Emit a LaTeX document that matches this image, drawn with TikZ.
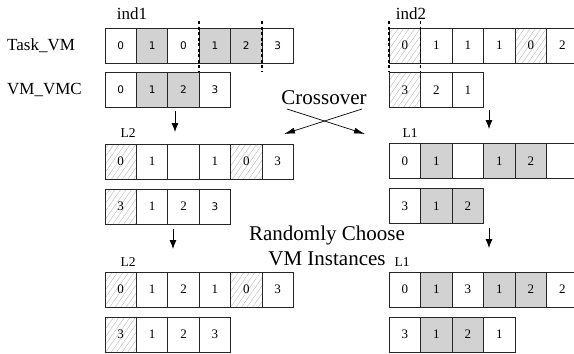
\documentclass[tikz,border=0pt]{standalone}
\usepackage{fontspec}
\setmainfont{Liberation Serif}
\newfontfamily\sansdig{DejaVu Sans}
\usetikzlibrary{arrows.meta,patterns.meta}
\tikzset{
  cell/.style={draw=black!85, line width=0.7pt, minimum width=31.4pt, minimum height=35pt,
    inner sep=0pt, outer sep=0pt, font=\fontsize{13}{15}\selectfont},
  cellw/.style={fill=white},
  cellg/.style={fill=gray!35},
  cellh/.style={pattern={Lines[angle=55,distance=4.5pt,line width=0.4pt]}, pattern color=gray!55},
  sd/.style={font=\sansdig\fontsize{10.5}{12}\selectfont},
  lbl/.style={font=\fontsize{17}{20}\selectfont, inner sep=0pt},
  small/.style={font=\fontsize{13.5}{15}\selectfont, inner sep=0pt},
  big/.style={font=\fontsize{21}{25}\selectfont, inner sep=0pt, align=center},
  arr/.style={line width=0.8pt, -{Latex[length=9pt,width=7pt]}},
  xarr/.style={line width=0.7pt, -{Latex[length=11pt,width=6pt]}},
  sep/.style={line width=1.5pt, dash pattern=on 3pt off 2.5pt}
}
\begin{document}
\begin{tikzpicture}[x=1pt,y=-1pt]
\useasboundingbox (0,0) rectangle (574,354);
\clip (0,0) rectangle (574,354);
% ---------- left group ----------
\foreach \s/\t [count=\i] in {w/0,g/1,w/0,g/1,g/2,w/3}
  \node[cell,cell\s,sd] (a1-\i) at ({105+(\i-0.5)*31.4},45.5) {\t};
\foreach \s/\t [count=\i] in {w/0,g/1,g/2,w/3}
  \node[cell,cell\s,sd] (a2-\i) at ({105+(\i-0.5)*31.4},90) {\t};
\foreach \s/\t [count=\i] in {h/0,w/1,w/{},w/1,h/0,w/3}
  \node[cell,cell\s] (a3-\i) at ({105+(\i-0.5)*31.4},161.5) {\t};
\foreach \s/\t [count=\i] in {h/3,w/1,w/2}
  \node[cell,cell\s] (a4-\i) at ({105+(\i-0.5)*31.4},206.5) {\t};
\node[cell,cellw,sd] (a4-4) at ({105+3.5*31.4},206.5) {3};
\foreach \s/\t [count=\i] in {h/0,w/1,w/2,w/1,h/0,w/3}
  \node[cell,cell\s] (a5-\i) at ({105+(\i-0.5)*31.4},289.5) {\t};
\foreach \s/\t [count=\i] in {h/3,w/1,w/2,w/3}
  \node[cell,cell\s] (a6-\i) at ({105+(\i-0.5)*31.4},334.5) {\t};
% ---------- right group ----------
\foreach \s/\t [count=\i] in {h/0,w/1,w/1,w/1,h/0,w/2}
  \node[cell,cell\s] (b1-\i) at ({389+(\i-0.5)*31.5},45.5) {\t};
\foreach \s/\t [count=\i] in {h/3,w/2,w/1}
  \node[cell,cell\s] (b2-\i) at ({389+(\i-0.5)*31.5},90) {\t};
\foreach \s/\t [count=\i] in {w/0,g/1,w/{},g/1,g/2,w/{}}
  \node[cell,cell\s] (b3-\i) at ({389+(\i-0.5)*31.5},161) {\t};
\foreach \s/\t [count=\i] in {w/3,g/1,g/2}
  \node[cell,cell\s] (b4-\i) at ({389+(\i-0.5)*31.5},206) {\t};
\foreach \s/\t [count=\i] in {w/0,g/1,w/3,g/1,g/2,w/2}
  \node[cell,cell\s] (b5-\i) at ({389+(\i-0.5)*31.5},289.5) {\t};
\foreach \s/\t [count=\i] in {w/3,g/1,g/2,w/1}
  \node[cell,cell\s] (b6-\i) at ({389+(\i-0.5)*31.5},334.5) {\t};
% ---------- separators ----------
\coordinate (s1t) at (199.2,21); \coordinate (s1b) at (199.2,72);
\coordinate (s2t) at (262,21);   \coordinate (s2b) at (262,72);
\coordinate (s3t) at (389,21);   \coordinate (s3b) at (389,72);
\coordinate (s4t) at (420.5,21); \coordinate (s4b) at (420.5,72);
\draw[sep] (s1t) -- (s1b);
\draw[sep] (s2t) -- (s2b);
\draw[sep] (s3t) -- (s3b);
\draw[sep] (s4t) -- (s4b);
% ---------- labels ----------
\node[lbl] (ind1) at (132,14) {ind1};
\node[lbl] (ind2) at (411,14) {ind2};
\node[lbl,anchor=west] (tvm) at (7,46) {Task\_VM};
\node[lbl,anchor=west] (vmc) at (7,90) {VM\_VMC};
\node[small] (l2a) at (128,133) {L2};
\node[small] (l1a) at (410,133) {L1};
\node[small] (l2b) at (128,262) {L2};
\node[small] (l1b) at (402,262) {L1};
\node[big] (cross) at (324,98) {Crossover};
\node[big] (rand) at (327,245.5) {Randomly Choose\\VM Instances};
% ---------- arrows ----------
\coordinate (c1s) at (287,109); \coordinate (c1e) at (365,134);
\coordinate (c2s) at (362,109); \coordinate (c2e) at (284,134);
\draw[xarr] (c1s) -- (c1e);
\draw[xarr] (c2s) -- (c2e);
\coordinate (v1s) at (175,111); \coordinate (v1e) at (175,132);
\coordinate (v2s) at (173,229); \coordinate (v2e) at (173,249);
\coordinate (v3s) at (489,110); \coordinate (v3e) at (489,129);
\coordinate (v4s) at (489,228); \coordinate (v4e) at (489,248);
\draw[arr] (v1s) -- (v1e);
\draw[arr] (v2s) -- (v2e);
\draw[arr] (v3s) -- (v3e);
\draw[arr] (v4s) -- (v4e);
\end{tikzpicture}
\end{document}
